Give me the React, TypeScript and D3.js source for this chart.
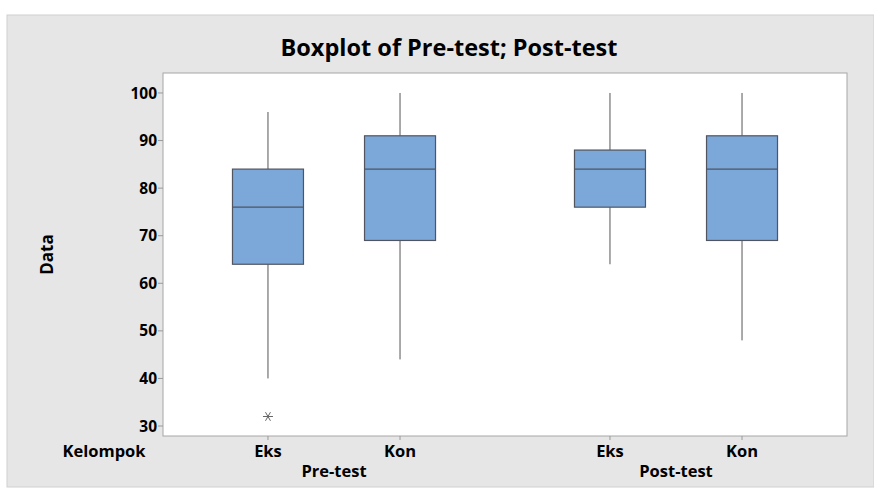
import React from "react";
import * as d3 from "d3";

const groups = ["Pre-test", "Post-test"];
const kelompok = ["Eks", "Kon"];
const yTicks = [30, 40, 50, 60, 70, 80, 90, 100];

// five-number summaries: lower whisker, Q1, median, Q3, upper whisker
const preEks = [40, 64, 76, 84, 96];
const preKon = [44, 69, 84, 91, 100];
const postEks = [64, 76, 84, 88, 100];
const postKon = [48, 69, 84, 91, 100];
const outliers = [{ group: "Pre-test", k: "Eks", value: 32 }];

const boxes = [
  { group: "Pre-test", k: "Eks", s: preEks },
  { group: "Pre-test", k: "Kon", s: preKon },
  { group: "Post-test", k: "Eks", s: postEks },
  { group: "Post-test", k: "Kon", s: postKon },
];

const W = 874;
const H = 491;
const plot = { left: 163, right: 847, top: 73, bottom: 436 };
const font = "'Open Sans', 'Noto Sans', sans-serif";

const App = () => {
  const y = d3.scaleLinear().domain([27.9, 104.2]).range([plot.bottom, plot.top]);
  const outer = d3.scaleBand().domain(groups).range([plot.left, plot.right]);
  const inner = d3
    .scalePoint()
    .domain(kelompok)
    .range([0, outer.bandwidth()])
    .padding(0.795);
  const xOf = (g, k) => outer(g) + inner(k);
  const bw = 71;
  const star = d3.symbol().type(d3.symbolAsterisk).size(70)();

  return (
    <svg width={W} height={H} style={{ position: "absolute", left: 0, top: 0 }}>
      <rect x={0} y={0} width={W} height={H} fill="#fff" />
      <rect x={7} y={15} width={W - 7} height={472} fill="#e6e6e6" stroke="#d0d0d0" />
      <text
        x={449}
        y={56}
        textAnchor="middle"
        fontFamily={font}
        fontWeight={700}
        fontSize={23.5}
        fill="#000"
      >
        Boxplot of Pre-test; Post-test
      </text>
      <rect
        x={plot.left}
        y={plot.top}
        width={plot.right - plot.left}
        height={plot.bottom - plot.top}
        fill="#fff"
        stroke="#a6a6a6"
      />
      {yTicks.map(t => (
        <g key={t}>
          <line x1={plot.left - 5} x2={plot.left} y1={y(t)} y2={y(t)} stroke="#9a9a9a" />
          <text
            x={plot.left - 6}
            y={y(t)}
            dy="0.36em"
            textAnchor="end"
            fontFamily={font}
            fontWeight={700}
            fontSize={15.5}
          >
            {t}
          </text>
        </g>
      ))}
      <text
        transform={`translate(53 ${(plot.top + plot.bottom) / 2}) rotate(-90)`}
        textAnchor="middle"
        fontFamily={font}
        fontWeight={700}
        fontSize={17}
      >
        Data
      </text>
      {boxes.map((b, i) => {
        const cx = xOf(b.group, b.k);
        const [lo, q1, med, q3, hi] = b.s;
        return (
          <g key={i}>
            <line x1={cx} x2={cx} y1={y(hi)} y2={y(q3)} stroke="#555" />
            <line x1={cx} x2={cx} y1={y(q1)} y2={y(lo)} stroke="#555" />
            <rect
              x={cx - bw / 2}
              y={y(q3)}
              width={bw}
              height={y(q1) - y(q3)}
              fill="#7ba7d9"
              stroke="#505560"
              strokeWidth={1.2}
            />
            <line x1={cx - bw / 2} x2={cx + bw / 2} y1={y(med)} y2={y(med)} stroke="#505560" strokeWidth={1.2} />
          </g>
        );
      })}
      {outliers.map((o, i) => (
        <path
          key={i}
          d={star}
          transform={`translate(${xOf(o.group, o.k)} ${y(o.value)}) rotate(90)`}
          fill="none"
          stroke="#666"
          strokeWidth={1}
        />
      ))}
      {groups.map(g => (
        <g key={g}>
          {kelompok.map(k => (
            <g key={k}>
              <line
                x1={xOf(g, k)}
                x2={xOf(g, k)}
                y1={plot.bottom}
                y2={plot.bottom + 4}
                stroke="#9a9a9a"
              />
              <text
                x={xOf(g, k)}
                y={457}
                textAnchor="middle"
                fontFamily={font}
                fontWeight={700}
                fontSize={16.5}
              >
                {k}
              </text>
            </g>
          ))}
          <text
            x={outer(g) + outer.bandwidth() / 2}
            y={477}
            textAnchor="middle"
            fontFamily={font}
            fontWeight={700}
            fontSize={16.5}
          >
            {g}
          </text>
        </g>
      ))}
      <text x={104} y={457} textAnchor="middle" fontFamily={font} fontWeight={700} fontSize={16.5}>
        Kelompok
      </text>
    </svg>
  );
};

export default App;
